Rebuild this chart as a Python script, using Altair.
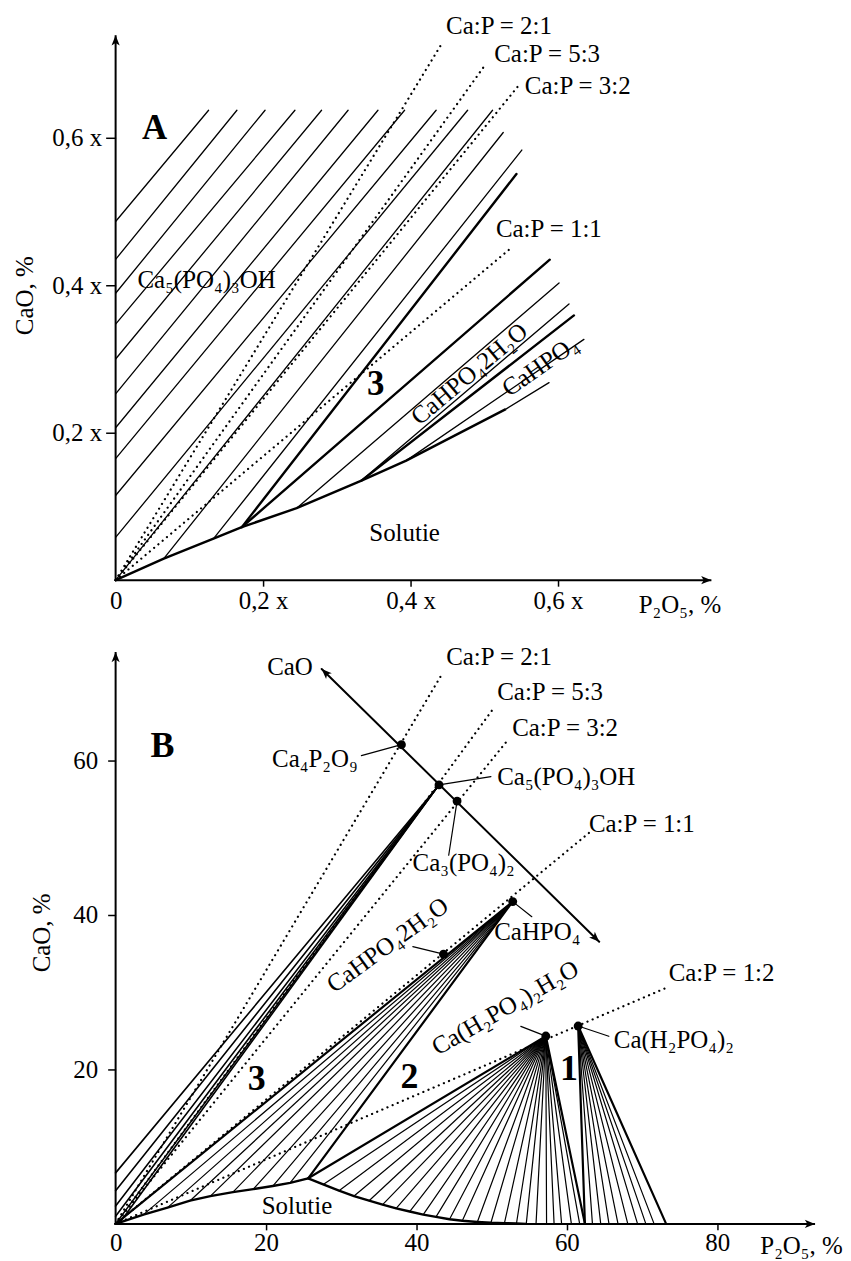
import altair as alt
import pandas as pd

FONT = "Liberation Serif"
BLACK = "#000000"

# ======================= Panel A : region near the origin (units of x) =======================
a_ticks_x = [0, 0.2, 0.4, 0.6]
a_ticks_y = [0.2, 0.4, 0.6]

# solubility curve (bold)
a_curve_x = [0, 0.0653, 0.1327, 0.1711, 0.2455, 0.3334, 0.3941, 0.5292]
a_curve_y = [0, 0.0293, 0.0564, 0.0720, 0.0977, 0.1351, 0.1622, 0.2320]

# Ca5(PO4)3OH tie lines (parallel hatching)
a_hap_x0 = [0, 0, 0, 0, 0, 0, 0, 0, 0, 0, 0]
a_hap_y0 = [0.4865, 0.4351, 0.3892, 0.3473, 0.3000, 0.2527, 0.2068, 0.1649, 0.1149, 0.0581, 0.0]
a_hap_x1 = [0.1261, 0.1645, 0.2027, 0.2432, 0.2793, 0.3153, 0.3558, 0.3919, 0.4347, 0.4774, 0.5112]
a_hap_y1 = [0.6374, 0.6374, 0.6374, 0.6374, 0.6374, 0.6374, 0.6374, 0.6374, 0.6374, 0.6374, 0.6374]

# other thin tie lines
a_thin_x0 = [0.0653, 0.1328, 0.2455, 0.3334, 0.3942, 0.5293]
a_thin_y0 = [0.0293, 0.0564, 0.0977, 0.1351, 0.1622, 0.2320]
a_thin_x1 = [0.5257, 0.5509, 0.6014, 0.6149, 0.6351, 0.5878]
a_thin_y1 = [0.6072, 0.5834, 0.4031, 0.3747, 0.3266, 0.2680]

# bold boundaries of the three-phase regions
a_bold_x0 = [0.1712, 0.1712, 0.3334]
a_bold_y0 = [0.0720, 0.0720, 0.1351]
a_bold_x1 = [0.5436, 0.5888, 0.6216]
a_bold_y1 = [0.5509, 0.4347, 0.3591]

# Ca:P ratio lines (dotted) : end points
a_ratio_x1 = [0.4436, 0.5023, 0.5450, 0.5361]
a_ratio_y1 = [0.7297, 0.7004, 0.6689, 0.4504]

# ======================= Panel B : whole diagram (%) =======================
b_ticks_x = [0, 20, 40, 60, 80]
b_ticks_y = [20, 40, 60]

compound_names = ["Ca4P2O9", "Ca5(PO4)3OH", "Ca3(PO4)2", "CaHPO4", "CaHPO4.2H2O",
                  "Ca(H2PO4)2.H2O", "Ca(H2PO4)2"]
compound_p2o5 = [38.0, 43.0, 45.4, 52.8, 43.6, 57.2, 61.5]
compound_cao = [62.0, 56.8, 54.7, 41.7, 34.9, 24.3, 25.6]

# CaO - P2O5 join (line with arrows at both ends)
b_join_x = [27.4, 64.3]
b_join_y = [71.8, 36.5]

# Ca:P ratio lines (dotted) from the origin
b_ratio_x1 = [43.5, 50.4, 51.9, 63.2, 73.6]
b_ratio_y1 = [71.3, 66.9, 62.3, 50.8, 30.7]

# solubility curve
b_curve_x = [0, 3.7, 6.9, 9.9, 12.6, 15.6, 18.3, 20.9, 23.2, 25.6, 27.6, 29.7, 31.7, 33.7, 35.5,
             37.3, 39.1, 40.9, 42.6, 44.4, 46.1, 48.1, 49.9, 51.7, 53.3, 54.6]
b_curve_y = [0, 1.2, 2.1, 3.0, 3.6, 4.1, 4.5, 4.9, 5.3, 5.9, 5.1, 4.3, 3.6, 3.0, 2.5,
             2.0, 1.6, 1.2, 0.9, 0.6, 0.4, 0.25, 0.15, 0.1, 0.05, 0.0]

# Ca5(PO4)3OH tie-line bundle (ends near the origin)
b_hap_x0 = [0, 0, 0, 0, 0, 0.6]
b_hap_y0 = [6.6, 4.3, 2.3, 1.0, 0.0, 0.2]

# CaHPO4 fan (ends on the first branch of the curve)
b_dcpa_x0 = [3.7, 6.9, 9.9, 12.6, 15.6, 18.3, 20.9, 23.2]
b_dcpa_y0 = [1.2, 2.1, 3.0, 3.6, 4.1, 4.5, 4.9, 5.3]

# Ca(H2PO4)2.H2O fan (ends on the second branch of the curve)
b_mcpm_x0 = [27.6, 29.7, 31.7, 33.7, 35.5, 37.3, 39.1, 40.9, 42.6, 44.4, 46.1, 48.1, 49.9,
             51.7, 53.3, 54.6, 55.9, 57.3, 58.3, 59.3, 60.6, 61.7]
b_mcpm_y0 = [5.1, 4.3, 3.6, 3.0, 2.5, 2.0, 1.6, 1.2, 0.9, 0.6, 0.4, 0.25, 0.15,
             0.1, 0.05, 0, 0, 0, 0, 0, 0, 0]

# Ca(H2PO4)2 fan (ends on the P2O5 axis)
b_mcpa_x0 = [63.4, 64.5, 65.6, 66.8, 68.1, 69.4, 70.5, 71.6]
b_mcpa_y0 = [0, 0, 0, 0, 0, 0, 0, 0]

# invariant points
b_kink = (25.6, 5.9)
b_inv = (62.4, 0.0)
b_mcpa_end = (73.2, 0.0)


# ----------------------------------------------------------------------------
def axis_common(**kw):
    base = dict(domain=False, grid=False, tickColor=BLACK, tickWidth=1.5,
                labelFont=FONT, labelFontSize=25, labelColor=BLACK, labelFlush=False,
                labelOverlap=False, titleFont=FONT, titleFontSize=25, titleFontWeight="normal",
                titleColor=BLACK)
    base.update(kw)
    return alt.Axis(**base)


hide_zero_tick = {"condition": {"test": "datum.value === 0", "value": 0}, "value": 1}


class Panel:
    def __init__(self, xs, ys, xaxis, yaxis):
        self.xs, self.ys, self.xaxis, self.yaxis = xs, ys, xaxis, yaxis

    def X(self, f="x"):
        return alt.X(f + ":Q", scale=self.xs, axis=self.xaxis)

    def Y(self, f="y"):
        return alt.Y(f + ":Q", scale=self.ys, axis=self.yaxis)

    def rules(self, df, width, dash=None):
        kw = dict(color=BLACK, strokeWidth=width, strokeCap="round")
        if dash is not None:
            kw["strokeDash"] = dash
        return alt.Chart(df).mark_rule(**kw).encode(
            x=self.X(), y=self.Y(), x2="x2:Q", y2="y2:Q")

    def curve(self, xv, yv, width=2.4):
        df = pd.DataFrame({"x": xv, "y": yv, "i": list(range(len(xv)))})
        return alt.Chart(df).mark_line(color=BLACK, strokeWidth=width, strokeJoin="round").encode(
            x=self.X(), y=self.Y(), order="i:Q")

    def texts(self, rows, align="left", weight="normal", size=25):
        df = pd.DataFrame(rows, columns=["label", "x", "y", "angle"])
        return alt.Chart(df).mark_text(align=align, baseline="middle", font=FONT, fontSize=size,
                                       fontWeight=weight, color=BLACK).encode(
            x=self.X(), y=self.Y(), text="label:N", angle=alt.Angle("angle:Q", scale=None))

    def arrows(self, xv, yv, ang, size=420):
        df = pd.DataFrame({"x": xv, "y": yv, "angle": ang})
        return alt.Chart(df).mark_point(shape="M0,0L0.4,1L0,0.75L-0.4,1Z", filled=True, size=size,
                                        color=BLACK, opacity=1, strokeWidth=0).encode(
            x=self.X(), y=self.Y(), angle=alt.Angle("angle:Q", scale=None))

    def axes_lines(self, x_end, y_end):
        df = pd.DataFrame({"x": [0, 0], "y": [0, 0], "x2": [x_end, 0], "y2": [0, y_end]})
        return alt.Chart(df).mark_rule(color=BLACK, strokeWidth=2).encode(
            x=self.X(), y=self.Y(), x2="x2:Q", y2="y2:Q")

    def dots(self, xv, yv, size=80):
        df = pd.DataFrame({"x": xv, "y": yv})
        return alt.Chart(df).mark_circle(size=size, color=BLACK, opacity=1).encode(
            x=self.X(), y=self.Y())


def seg(x0, y0, x1, y1):
    return pd.DataFrame({"x": x0, "y": y0, "x2": x1, "y2": y1})


# ======================= build panel A =======================
A_XEND, A_YEND = 0.808, 0.739
pa = Panel(
    alt.Scale(domain=[0, 0.9838], nice=False, zero=False),
    alt.Scale(domain=[0, 0.773], nice=False, zero=False),
    axis_common(values=a_ticks_x, tickSize=6, labelPadding=2, title=None,
                tickOpacity=hide_zero_tick,
                labelExpr="datum.value == 0 ? '0' : replace(format(datum.value, '.1f'), '.', ',') + ' x'"),
    axis_common(values=a_ticks_y, tickSize=10, labelPadding=4, title="CaO, %", titlePadding=14,
                labelExpr="replace(format(datum.value, '.1f'), '.', ',') + ' x'"),
)

n = len(a_ratio_x1)
a_ratio = seg([0] * n, [0] * n, a_ratio_x1, a_ratio_y1)

a_left = [
    ["Ca:P = 2:1", 0.4482, 0.7514, 0],
    ["Ca:P = 5:3", 0.5135, 0.7135, 0],
    ["Ca:P = 3:2", 0.5550, 0.6703, 0],
    ["Ca:P = 1:1", 0.5158, 0.4757, 0],
    ["Ca₅(PO₄)₃OH", 0.0297, 0.4068, 0],
    ["P₂O₅, %", 0.7095, -0.0338, 0],
]
a_center = [
    ["Solutie", 0.3919, 0.0635, 0],
    ["CaHPO₄2H₂O", 0.4797, 0.2797, 320],
    ["CaHPO₄", 0.5757, 0.2905, 325],
]
a_bold = [
    ["A", 0.0527, 0.6135, 0],
    ["3", 0.3527, 0.2662, 0],
]

panel_a = alt.layer(
    pa.axes_lines(A_XEND, A_YEND),
    pa.arrows([A_XEND, 0], [0, A_YEND], [90, 0]),
    pa.rules(seg(a_hap_x0, a_hap_y0, a_hap_x1, a_hap_y1), 1.3),
    pa.rules(seg(a_thin_x0, a_thin_y0, a_thin_x1, a_thin_y1), 1.3),
    pa.rules(seg(a_bold_x0, a_bold_y0, a_bold_x1, a_bold_y1), 2.4),
    pa.rules(a_ratio, 2.2, dash=[0.1, 5.5]),
    pa.curve(a_curve_x, a_curve_y),
    pa.texts(a_left, align="left"),
    pa.texts(a_center, align="center"),
    pa.texts(a_bold, align="center", weight="bold", size=35),
).properties(width=728, height=572)

# ======================= build panel B =======================
B_XEND, B_YEND = 93.0, 74.0
pb = Panel(
    alt.Scale(domain=[0, 96.45], nice=False, zero=False),
    alt.Scale(domain=[0, 75.42], nice=False, zero=False),
    axis_common(values=b_ticks_x, tickSize=6, labelPadding=1, title=None,
                tickOpacity=hide_zero_tick, format="d"),
    axis_common(values=b_ticks_y, tickSize=8, labelPadding=10, title="CaO, %",
                titlePadding=18, format="d"),
)

hap = (compound_p2o5[1], compound_cao[1])
dcpa = (compound_p2o5[3], compound_cao[3])
mcpm = (compound_p2o5[5], compound_cao[5])
mcpa = (compound_p2o5[6], compound_cao[6])

n = len(b_hap_x0)
b_hap = seg(b_hap_x0, b_hap_y0, [hap[0]] * n, [hap[1]] * n)
n = len(b_dcpa_x0)
b_dcpa = seg(b_dcpa_x0, b_dcpa_y0, [dcpa[0]] * n, [dcpa[1]] * n)
n = len(b_mcpm_x0)
b_mcpm = seg(b_mcpm_x0, b_mcpm_y0, [mcpm[0]] * n, [mcpm[1]] * n)
n = len(b_mcpa_x0)
b_mcpa = seg(b_mcpa_x0, b_mcpa_y0, [mcpa[0]] * n, [mcpa[1]] * n)

b_bold = seg([0, b_kink[0], b_kink[0], b_inv[0], b_inv[0], b_mcpa_end[0]],
             [0, b_kink[1], b_kink[1], b_inv[1], b_inv[1], b_mcpa_end[1]],
             [dcpa[0], dcpa[0], mcpm[0], mcpm[0], mcpa[0], mcpa[0]],
             [dcpa[1], dcpa[1], mcpm[1], mcpm[1], mcpa[1], mcpa[1]])

n = len(b_ratio_x1)
b_ratio = seg([0] * n, [0] * n, b_ratio_x1, b_ratio_y1)
b_join = seg([b_join_x[0]], [b_join_y[0]], [b_join_x[1]], [b_join_y[1]])

b_leaders = seg([32.68, 49.9, 44.29, 55.34, 39.52, 53.88, 65.58],
                [60.59, 57.88, 47.7, 39.74, 35.88, 25.56, 24.27],
                compound_p2o5, compound_cao)

b_left = [
    ["Ca:P = 2:1", 43.95, 73.35, 0],
    ["Ca:P = 5:3", 50.74, 68.84, 0],
    ["Ca:P = 3:2", 52.73, 64.2, 0],
    ["Ca:P = 1:1", 62.93, 51.7, 0],
    ["Ca:P = 1:2", 73.53, 32.49, 0],
    ["Ca₄P₂O₉", 20.8, 60.2, 0],
    ["Ca₅(PO₄)₃OH", 50.74, 57.88, 0],
    ["Ca₃(PO₄)₂", 39.48, 46.66, 0],
    ["CaHPO₄", 50.34, 37.77, 0],
    ["Ca(H₂PO₄)₂", 66.24, 23.85, 0],
    ["P₂O₅, %", 85.72, -2.84, 0],
]
b_center = [
    ["CaO", 23.19, 72.06, 0],
    ["Solutie", 24.11, 2.32, 0],
    ["CaHPO₄2H₂O", 36.17, 36.1, 324],
    ["Ca(H₂PO₄)₂H₂O", 51.8, 27.97, 330],
]
b_boldtxt = [
    ["B", 6.23, 61.88, 0],
    ["3", 18.77, 18.69, 0],
    ["2", 39.08, 18.95, 0],
    ["1", 60.28, 19.98, 0],
]

panel_b = alt.layer(
    pb.axes_lines(B_XEND, B_YEND),
    pb.arrows([B_XEND, 0], [0, B_YEND], [90, 0]),
    pb.rules(b_hap, 1.6),
    pb.rules(b_dcpa, 1.2),
    pb.rules(b_mcpm, 1.2),
    pb.rules(b_mcpa, 1.2),
    pb.rules(b_bold, 2.2),
    pb.rules(b_ratio, 2.2, dash=[0.1, 5.5]),
    pb.rules(b_join, 2.0),
    pb.arrows(b_join_x, b_join_y, [314.6, 134.6]),
    pb.rules(b_leaders, 1.2),
    pb.curve(b_curve_x, b_curve_y),
    pb.dots(compound_p2o5, compound_cao),
    pb.texts(b_left, align="left"),
    pb.texts(b_center, align="center"),
    pb.texts(b_boldtxt, align="center", weight="bold", size=36),
).properties(width=728, height=585)

chart = alt.vconcat(panel_a, panel_b, spacing=22).properties(
    padding={"left": 5, "top": 0, "right": 0, "bottom": 0}
).configure_view(stroke=None)

chart.save("out.html", embed_options={"renderer": "svg", "actions": False})
